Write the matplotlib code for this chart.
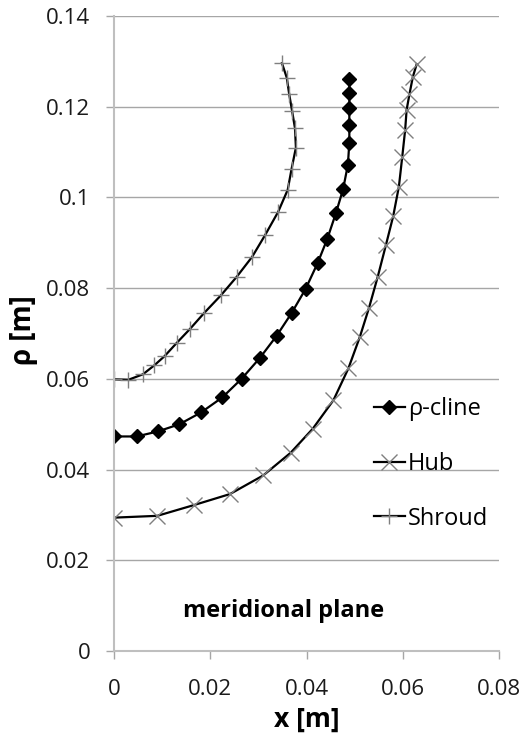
import matplotlib
matplotlib.use("Agg")
import matplotlib.pyplot as plt

plt.rcParams['font.family'] = ['Open Sans', 'DejaVu Sans']

# meridional contour coordinates [m]
cline_x = [0.0, 0.0047, 0.0091, 0.0136, 0.0181, 0.0225, 0.0265, 0.0303, 0.0338,
           0.0369, 0.0398, 0.0423, 0.0443, 0.0461, 0.0476, 0.0486, 0.0489,
           0.0489, 0.0489, 0.0489, 0.0489]
cline_y = [0.0473, 0.0473, 0.0484, 0.0500, 0.0526, 0.0559, 0.0600, 0.0646, 0.0695,
           0.0745, 0.0798, 0.0855, 0.0908, 0.0965, 0.1018, 0.1072, 0.1121,
           0.1160, 0.1198, 0.1231, 0.1262]

hub_x = [0.0, 0.0090, 0.0167, 0.0241, 0.0310, 0.0367, 0.0413, 0.0456, 0.0487,
         0.0511, 0.0530, 0.0548, 0.0565, 0.0580, 0.0592, 0.0599, 0.0605,
         0.0608, 0.0614, 0.0621, 0.0629]
hub_y = [0.0294, 0.0298, 0.0322, 0.0346, 0.0387, 0.0437, 0.0490, 0.0553, 0.0623,
         0.0693, 0.0757, 0.0825, 0.0895, 0.0958, 0.1024, 0.1090, 0.1149,
         0.1193, 0.1228, 0.1266, 0.1294]

shroud_x = [0.0, 0.0030, 0.0060, 0.0084, 0.0105, 0.0131, 0.0157, 0.0188, 0.0222,
            0.0255, 0.0287, 0.0314, 0.0341, 0.0361, 0.0369, 0.0378, 0.0376,
            0.0370, 0.0364, 0.0359, 0.0349]
shroud_y = [0.0599, 0.0598, 0.0610, 0.0630, 0.0650, 0.0680, 0.0709, 0.0746, 0.0784,
            0.0825, 0.0869, 0.0917, 0.0968, 0.1017, 0.1063, 0.1110, 0.1153,
            0.1191, 0.1228, 0.1264, 0.1296]

x_ticks = [0, 0.02, 0.04, 0.06, 0.08]
x_labels = ['0', '0.02', '0.04', '0.06', '0.08']
y_ticks = [0, 0.02, 0.04, 0.06, 0.08, 0.1, 0.12, 0.14]
y_labels = ['0', '0.02', '0.04', '0.06', '0.08', '0.1', '0.12', '0.14']

fig = plt.figure(figsize=(5.29, 7.38), dpi=100)
ax = fig.add_axes([0.2155, 0.1179, 0.7278, 0.8604])

ax.plot(cline_x, cline_y, color='black', lw=1.6, marker='D', ms=7,
        mfc='black', mec='black', label='\u03c1-cline')
ax.plot(hub_x, hub_y, color='black', lw=1.6, marker='x', ms=11,
        mec='#7f7f7f', mew=1.0, label='Hub')
ax.plot(shroud_x, shroud_y, color='black', lw=1.6, marker='+', ms=11,
        mec='#7f7f7f', mew=1.0, label='Shroud')

ax.set_xlim(0, 0.08)
ax.set_ylim(0, 0.14)
ax.set_xticks(x_ticks)
ax.set_xticklabels(x_labels)
ax.set_yticks(y_ticks)
ax.set_yticklabels(y_labels)

ax.grid(axis='y', color='#a6a6a6', lw=1.0)
ax.set_axisbelow(True)
for s in ['top', 'right']:
    ax.spines[s].set_visible(False)
for s in ['left', 'bottom']:
    ax.spines[s].set_color('#bfbfbf')
    ax.spines[s].set_linewidth(1.5)
ax.tick_params(axis='both', length=6, width=1.0, color='#a6a6a6',
               labelsize=16, labelcolor='#1a1a1a')
ax.tick_params(axis='y', pad=11)
ax.tick_params(axis='x', pad=14)

ax.set_xlabel('x [m]', fontsize=19, fontweight='bold', labelpad=4)
ax.set_ylabel('\u03c1 [m]', fontsize=20, fontweight='bold', labelpad=4)
ax.yaxis.set_label_coords(-0.197, 0.505)

ax.text(0.0353, 0.0088, 'meridional plane', ha='center', va='center',
        fontsize=17, fontweight='bold')

ax.legend(loc='upper left', bbox_to_anchor=(0.62, 0.433), frameon=False,
          fontsize=17, handlelength=1.3, handletextpad=0.15, labelspacing=1.3)

fig.savefig('out.png', dpi=100)
